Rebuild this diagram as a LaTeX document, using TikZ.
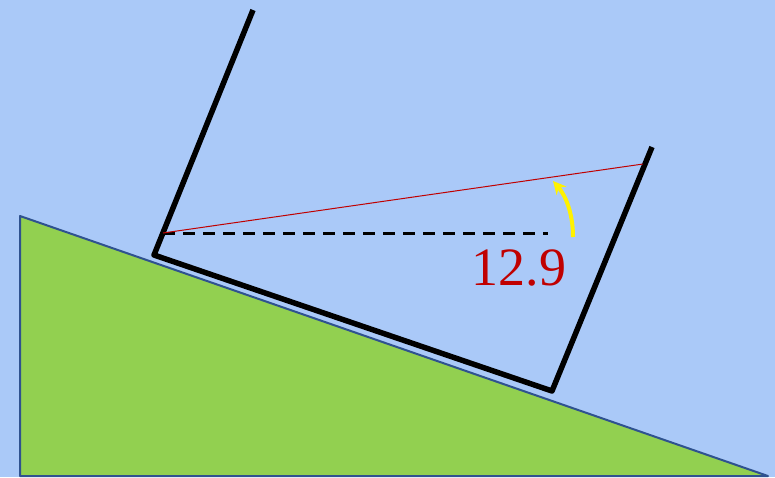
\documentclass[tikz,border=0pt]{standalone}
\usepackage{fontspec}
\setmainfont{Liberation Serif}
\usetikzlibrary{arrows.meta}
\definecolor{sky}{RGB}{170,201,248}
\definecolor{grass}{RGB}{146,208,80}
\definecolor{edge}{RGB}{47,82,143}
\definecolor{tilt}{RGB}{192,0,0}
\tikzset{
  every picture/.style={line join=round, line cap=butt, >=Stealth},
  wall/.style={line width=5.5pt, black},
  level/.style={line width=3pt, black, dash pattern=on 12pt off 8pt},
}

\begin{document}
\begin{tikzpicture}[x=1pt,y=-1pt]
\fill[sky] (0,0) rectangle (775,477);
\useasboundingbox (0,0) rectangle (775,477);
% slope
\coordinate (top) at (20,216);
\coordinate (foot) at (20,476);
\coordinate (toe) at (768,476);
\filldraw[fill=grass,draw=edge,line width=2pt] (top)--(foot)--(toe)--cycle;
% box
\coordinate (lt) at (253,10);
\coordinate (lb) at (154,255);
\coordinate (rb) at (552,391);
\coordinate (rt) at (652,147);
\draw[wall] (lt)--(lb)--(rb)--(rt);
% angle
\coordinate (o) at (163,233);
\coordinate (h) at (548,233);
\coordinate (r) at (643,164);
\draw[level] (o)--(h);
\draw[tilt,line width=1pt] (o)--(r);
\coordinate (a0) at (573,237);
\coordinate (a1) at (553,181);
\draw[yellow,line width=4pt,-{Stealth[length=13pt,width=13pt]}] (a0) .. controls (573,214) and (566,196) .. (a1);
\node[tilt,font=\fontsize{54}{58}\selectfont] (val) at (519,268) {12.9};
\end{tikzpicture}
\end{document}
